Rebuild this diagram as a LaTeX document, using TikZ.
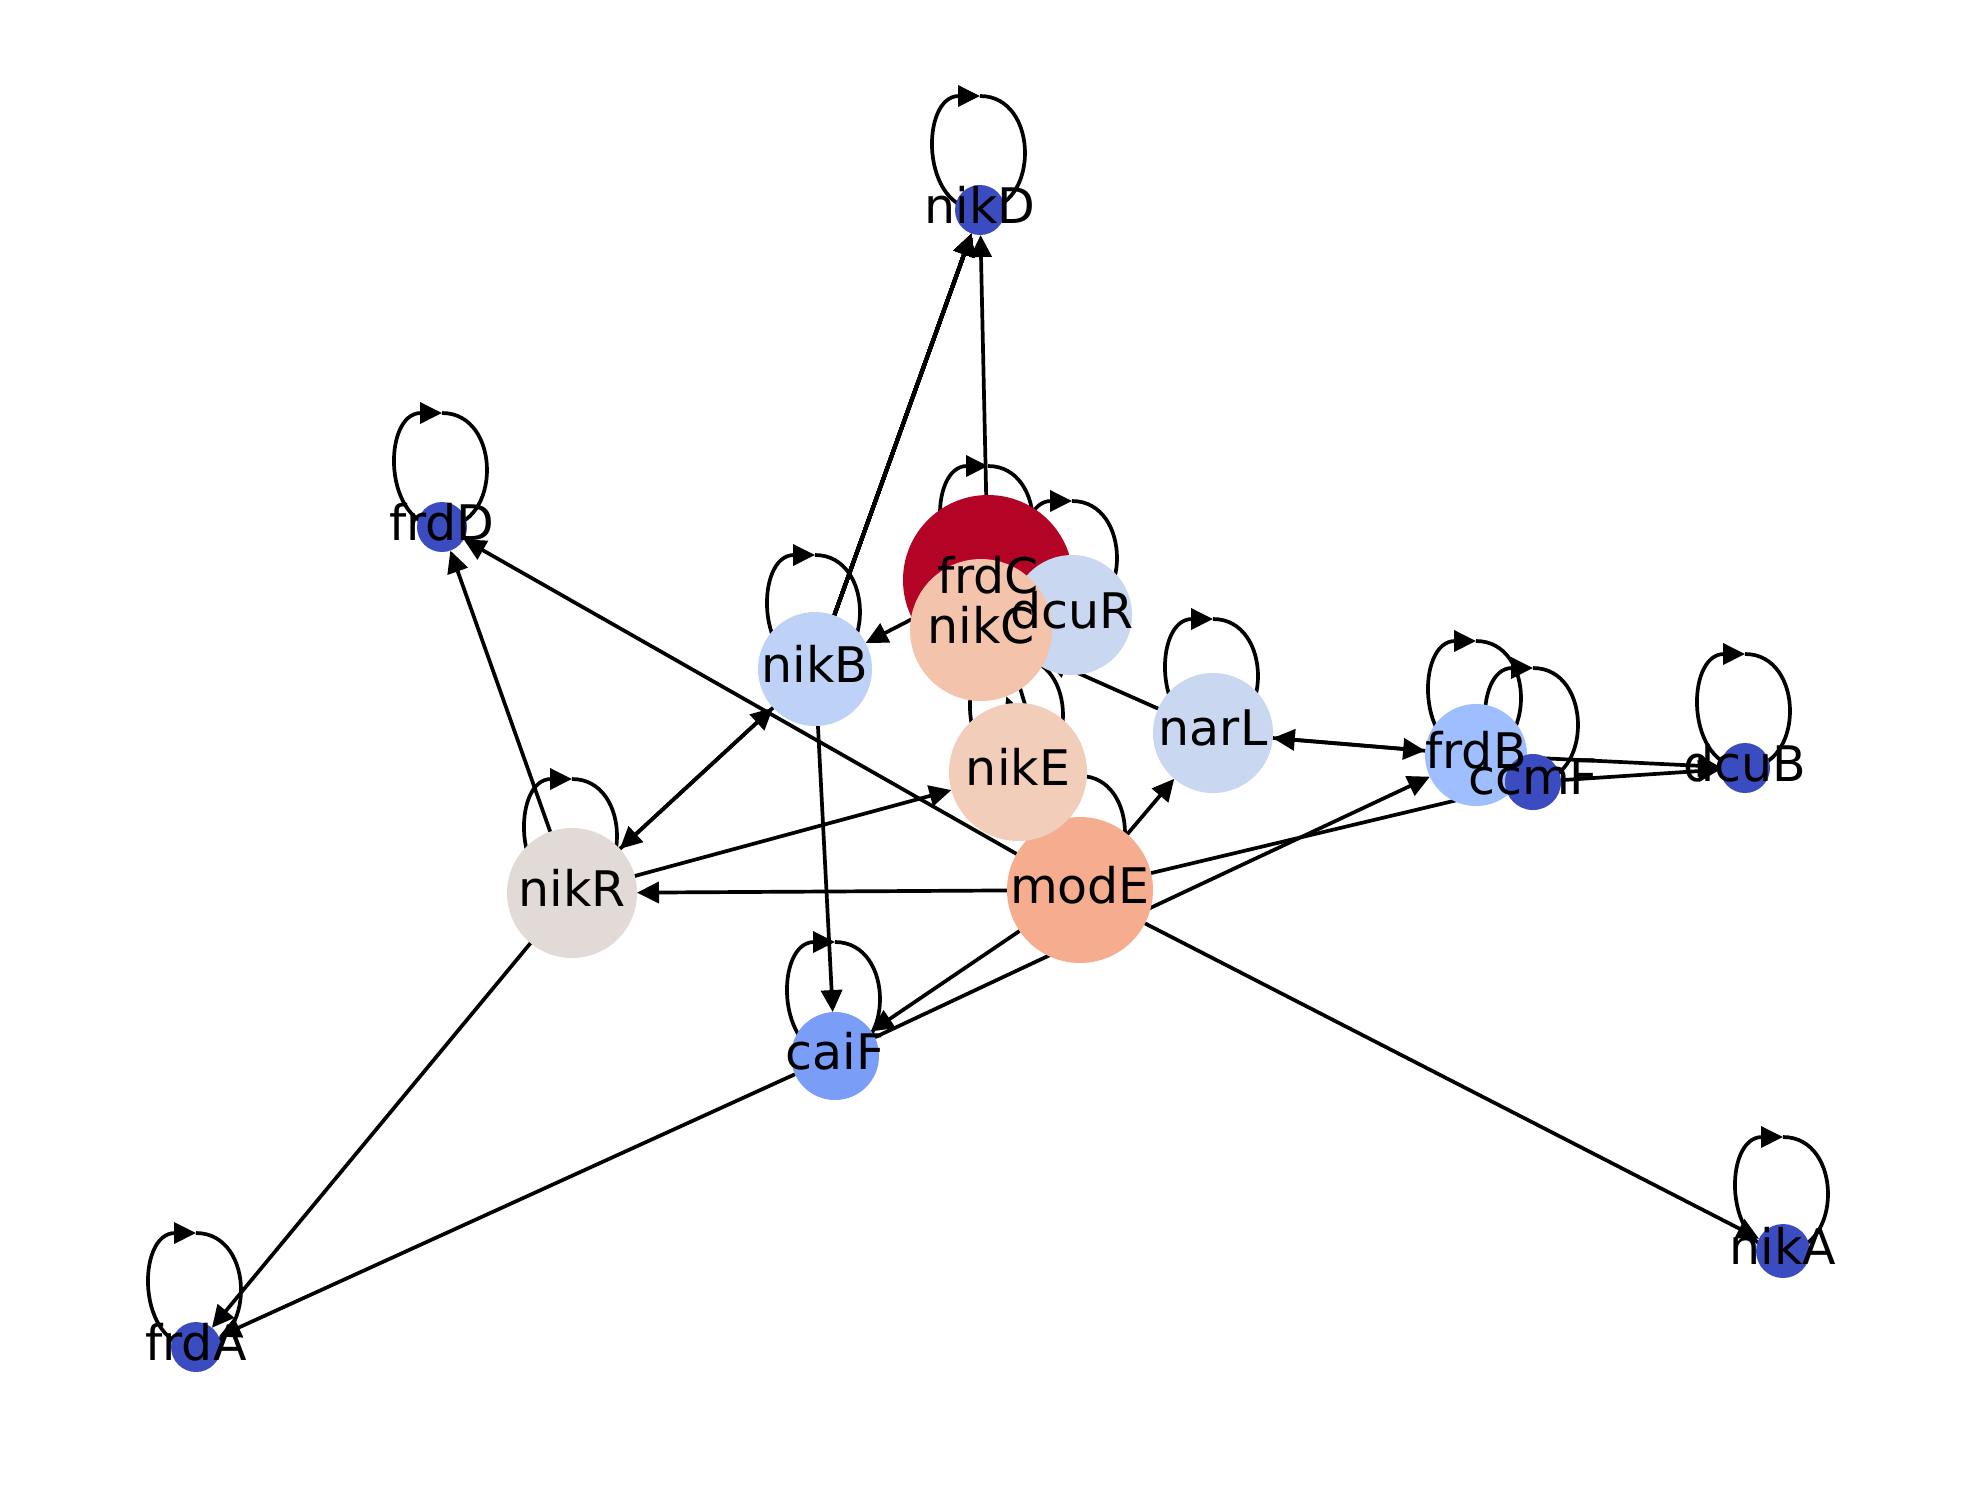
\documentclass[tikz,border=0pt]{standalone}
\usepackage{fontspec}
\setmainfont{DejaVu Sans}
\usetikzlibrary{arrows.meta}
\pgfdeclarelayer{edges}
\pgfsetlayers{edges,main}

% coolwarm shades used for the genes
\definecolor{cwRed}{HTML}{B40426}
\definecolor{cwPeachA}{HTML}{F4C3AB}
\definecolor{cwPeachB}{HTML}{F1CDBA}
\definecolor{cwSalmon}{HTML}{F6AD8F}
\definecolor{cwGrey}{HTML}{E1DAD6}
\definecolor{cwPaleBlue}{HTML}{C9D7F0}
\definecolor{cwLightBlue}{HTML}{BDD2F6}
\definecolor{cwSky}{HTML}{9EBEFF}
\definecolor{cwMid}{HTML}{7A9DF8}
\definecolor{cwBlue}{HTML}{3B4CC0}

% a regulation loop of a gene onto itself
\newcommand\geneloop[1]{%
  \draw[edge] ([yshift=1.14cm]#1.center)
    .. controls +(0.6,0) and +(0.6,0) .. (#1.center)
    .. controls +(-0.6,0) and +(-0.6,0) .. ([yshift=1.14cm]#1.center);}

\begin{document}
\begin{tikzpicture}[
  gene/.style={circle, inner sep=0pt, outer sep=0pt, draw=none, minimum size=#1},
  lbl/.style={font=\fontsize{13.95pt}{16pt}\selectfont, inner sep=0pt, yshift=0.05cm},
  edge/.style={line width=0.037cm, draw=black, -{Triangle[length=0.22cm,width=0.21cm]}}
]
\useasboundingbox (0,0) rectangle (19.8,-15);

% gene circles (later ones lie on top)
\node[gene=0.50cm, fill=cwBlue]      (nikD) at (9.80,-2.10) {};
\node[gene=0.50cm, fill=cwBlue]      (frdD) at (4.42,-5.27) {};
\node[gene=0.50cm, fill=cwBlue]      (frdA) at (1.96,-13.47) {};
\node[gene=0.54cm, fill=cwBlue]      (nikA) at (17.83,-12.51) {};
\node[gene=0.50cm, fill=cwBlue]      (dcuB) at (17.45,-7.68) {};
\node[gene=1.02cm, fill=cwSky]       (frdB) at (14.76,-7.55) {};
\node[gene=0.56cm, fill=cwBlue]      (ccmF) at (15.33,-7.82) {};
\node[gene=1.20cm, fill=cwPaleBlue]  (narL) at (12.13,-7.33) {};
\node[gene=1.70cm, fill=cwRed]       (frdC) at (9.88,-5.80) {};
\node[gene=1.20cm, fill=cwPaleBlue]  (dcuR) at (10.72,-6.15) {};
\node[gene=1.42cm, fill=cwPeachA]    (nikC) at (9.81,-6.30) {};
\node[gene=1.46cm, fill=cwSalmon]    (modE) at (10.80,-8.90) {};
\node[gene=1.38cm, fill=cwPeachB]    (nikE) at (10.18,-7.72) {};
\node[gene=1.14cm, fill=cwLightBlue] (nikB) at (8.15,-6.69) {};
\node[gene=1.30cm, fill=cwGrey]      (nikR) at (5.72,-8.93) {};
\node[gene=0.88cm, fill=cwMid]       (caiF) at (8.35,-10.56) {};

% gene names
\foreach \g in {nikD,frdD,frdA,nikA,dcuB,frdB,ccmF,narL,frdC,dcuR,nikC,modE,nikE,nikB,nikR,caiF}
  \node[lbl] (\g-name) at (\g) {\g};

\begin{pgfonlayer}{edges}
\fill[white] (0,0) rectangle (19.8,-15);
% self regulation
\foreach \g in {nikD,frdD,frdA,nikA,dcuB,frdB,ccmF,narL,frdC,dcuR,nikE,modE,nikB,nikR,caiF}
  \geneloop{\g}
% regulations between genes
\draw[edge] (nikB) -- (nikD);
\draw[edge] (frdC) -- (nikD);
\draw[edge] (nikR) -- (frdD);
\draw[edge] (modE) -- (frdD);
\draw[edge] (nikR) -- (nikB);
\draw[edge] (nikB) -- (nikR);
\draw[edge] (frdC) -- (nikB);
\draw[edge] (nikB) -- (caiF);
\draw[edge] (nikR) -- (nikE);
\draw[edge] (modE) -- (nikR);
\draw[edge] (nikR) -- (frdA);
\draw[edge] (caiF) -- (frdA);
\draw[edge] (modE) -- (caiF);
\draw[edge] (caiF) -- (frdB);
\draw[edge] (modE) -- (ccmF);
\draw[edge] (modE) -- (narL);
\draw[edge] (modE) -- (nikA);
\draw[edge] (modE) -- (nikC);
\draw[edge] (modE) -- (frdC);
\draw[edge] (narL) -- (frdB);
\draw[edge] (frdB) -- (narL);
\draw[edge] (frdB) -- (dcuB);
\draw[edge] (ccmF) -- (dcuB);
\draw[edge] (narL) -- (nikC);
\end{pgfonlayer}
\end{tikzpicture}
\end{document}
